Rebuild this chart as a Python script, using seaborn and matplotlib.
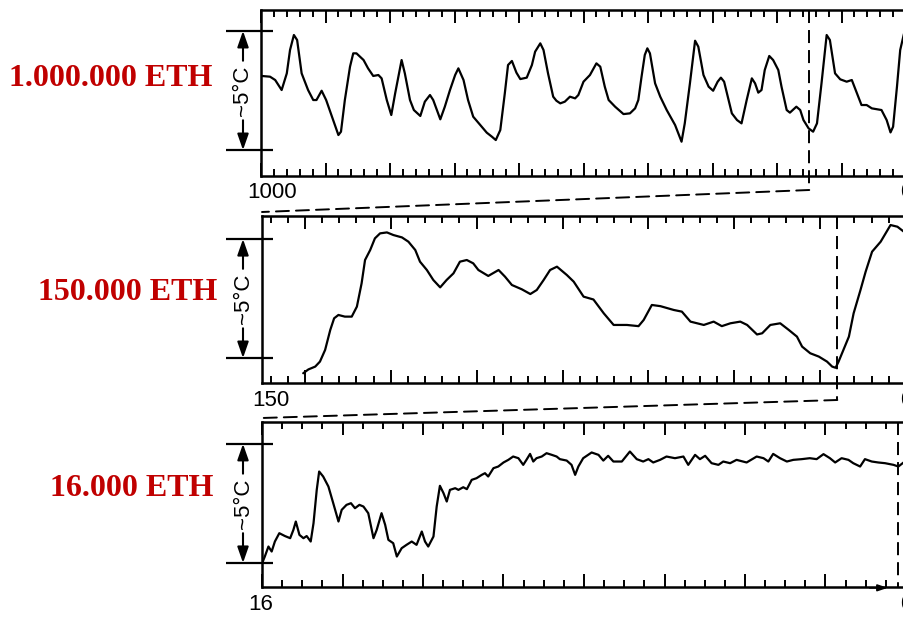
import matplotlib
matplotlib.use("Agg")
import matplotlib.pyplot as plt
import seaborn as sns
from matplotlib.ticker import MultipleLocator
from matplotlib.patches import ConnectionPatch

# ---- temperature records (age in kyr before present, temperature anomaly in degC) ----
ages_1000k = [999, 986, 978, 968, 960, 955, 949, 944, 937, 927,
              919, 914, 906, 899, 890, 880, 876, 870, 862, 857,
              852, 841, 834, 826, 818, 813, 805, 798, 792, 782,
              777, 769, 763, 753, 746, 738, 733, 722, 715, 707,
              699, 694, 686, 679, 671, 660, 650, 642, 636, 629,
              622, 617, 611, 604, 598, 588, 580, 575, 567, 562,
              555, 547, 542, 536, 529, 521, 513, 508, 500, 490,
              480, 474, 467, 461, 451, 438, 428, 420, 415, 410,
              405, 401, 397, 389, 381, 371, 358, 348, 343, 335,
              327, 322, 314, 306, 299, 292, 287, 282, 275, 270,
              262, 255, 247, 239, 234, 229, 224, 219, 212, 206,
              198, 193, 185, 180, 170, 164, 159, 151, 144, 138,
              131, 123, 118, 110, 102, 92, 84, 76, 69, 61,
              53, 38, 30, 24, 20, 14, 9, 3, 0]
temp_1000k = [3.11, 3.08, 2.94, 2.52, 3.22, 4.20, 4.83, 4.62, 3.22, 2.52,
              2.10, 2.10, 2.49, 2.10, 1.40, 0.63, 0.77, 2.10, 3.50, 4.06,
              4.06, 3.78, 3.43, 3.11, 3.15, 3.01, 2.10, 1.47, 2.38, 3.78,
              3.22, 2.10, 1.68, 1.43, 2.03, 2.31, 2.10, 1.29, 1.82, 2.52,
              3.15, 3.43, 2.94, 2.10, 1.40, 1.05, 0.73, 0.56, 0.42, 0.84,
              2.38, 3.57, 3.74, 3.25, 2.98, 3.04, 3.57, 4.13, 4.48, 4.20,
              3.22, 2.24, 2.07, 1.96, 2.03, 2.24, 2.17, 2.31, 2.87, 3.15,
              3.64, 3.50, 2.66, 2.10, 1.82, 1.51, 1.54, 1.75, 2.10, 3.08,
              3.99, 4.27, 4.06, 2.80, 2.24, 1.68, 1.05, 0.35, 1.12, 2.80,
              4.59, 4.34, 3.15, 2.66, 2.49, 2.87, 3.04, 2.87, 2.10, 1.54,
              1.26, 1.12, 2.10, 3.01, 2.80, 2.41, 2.52, 3.36, 3.95, 3.78,
              3.36, 2.66, 1.68, 1.57, 1.82, 1.68, 1.26, 0.91, 0.77, 1.12,
              2.80, 4.83, 4.62, 3.22, 2.97, 2.87, 2.94, 2.38, 1.89, 1.89,
              1.75, 1.68, 1.26, 0.74, 0.98, 2.66, 4.20, 4.90, 4.70]

ages_150k = [140.4, 139.2, 137.6, 136.5, 135.3, 134.1, 133.2, 132.2, 130.7, 129.1,
             127.9, 126.8, 126.0, 124.8, 123.7, 122.5, 120.9, 119.4, 117.4, 115.9,
             114.3, 113.2, 111.6, 110.1, 108.5, 107.0, 105.4, 103.9, 102.3, 100.8,
             99.6, 97.3, 94.9, 93.4, 91.8, 89.5, 87.5, 86.0, 84.4, 82.9,
             81.3, 79.0, 77.4, 75.1, 72.8, 70.4, 68.1, 65.0, 62.3, 61.1,
             59.2, 57.2, 54.1, 52.2, 50.2, 47.1, 44.8, 42.9, 40.9, 38.6,
             37.0, 34.7, 33.5, 31.6, 29.3, 27.3, 25.4, 24.2, 22.3, 20.3,
             18.4, 17.2, 16.4, 15.7, 13.3, 12.2, 10.6, 9.4, 7.9, 5.9,
             3.6, 2.0, 0.5]
temp_150k = [-0.64, -0.48, -0.36, -0.15, 0.34, 1.18, 1.67, 1.81, 1.74, 1.74,
             2.16, 3.14, 4.12, 4.54, 5.03, 5.24, 5.28, 5.17, 5.07, 4.89,
             4.54, 4.05, 3.70, 3.28, 2.97, 3.28, 3.56, 4.05, 4.12, 3.98,
             3.70, 3.45, 3.70, 3.42, 3.07, 2.89, 2.69, 2.86, 3.28, 3.70,
             3.84, 3.49, 3.21, 2.58, 2.46, 1.88, 1.39, 1.39, 1.34, 1.60,
             2.23, 2.18, 2.02, 1.95, 1.53, 1.39, 1.53, 1.34, 1.46, 1.53,
             1.39, 0.99, 1.04, 1.39, 1.46, 1.18, 0.90, 0.48, 0.20, 0.06,
             -0.15, -0.36, -0.41, -0.15, 0.90, 1.88, 2.86, 3.63, 4.47, 4.89,
             5.59, 5.52, 5.31]

ages_16k = [15.98, 15.93, 15.84, 15.76, 15.68, 15.57, 15.43, 15.30, 15.22, 15.16,
            15.07, 14.97, 14.89, 14.79, 14.72, 14.64, 14.58, 14.48, 14.35, 14.23,
            14.10, 14.02, 13.90, 13.79, 13.69, 13.58, 13.48, 13.36, 13.23, 13.15,
            13.03, 12.94, 12.86, 12.74, 12.65, 12.53, 12.41, 12.28, 12.16, 12.03,
            11.95, 11.87, 11.74, 11.66, 11.58, 11.49, 11.41, 11.33, 11.20, 11.12,
            11.00, 10.91, 10.79, 10.67, 10.54, 10.46, 10.38, 10.25, 10.13, 10.00,
            9.88, 9.76, 9.63, 9.51, 9.43, 9.34, 9.26, 9.18, 9.05, 8.93,
            8.80, 8.68, 8.60, 8.43, 8.31, 8.22, 8.14, 8.02, 7.81, 7.64,
            7.52, 7.40, 7.27, 7.06, 6.86, 6.69, 6.53, 6.40, 6.28, 6.11,
            5.95, 5.74, 5.53, 5.41, 5.24, 5.12, 4.99, 4.83, 4.66, 4.54,
            4.37, 4.21, 3.96, 3.71, 3.54, 3.42, 3.30, 3.13, 2.96, 2.80,
            2.59, 2.39, 2.22, 2.05, 1.89, 1.76, 1.60, 1.43, 1.31, 1.14,
            1.02, 0.85, 0.69, 0.52, 0.31, 0.19, 0.06]
temp_16k = [0.06, 0.27, 0.69, 0.48, 0.90, 1.25, 1.13, 1.04, 1.39, 1.74,
            1.18, 1.04, 1.13, 0.90, 1.67, 3.07, 3.84, 3.63, 3.21, 2.51,
            1.74, 2.23, 2.44, 2.51, 2.30, 2.44, 2.37, 2.09, 1.04, 1.39,
            2.09, 1.60, 0.97, 0.83, 0.27, 0.62, 0.76, 0.90, 0.76, 1.32,
            0.90, 0.69, 1.11, 2.37, 3.24, 2.93, 2.58, 3.07, 3.14, 3.07,
            3.18, 3.10, 3.49, 3.56, 3.70, 3.77, 3.63, 3.98, 4.05, 4.22,
            4.33, 4.47, 4.40, 4.12, 4.33, 4.58, 4.26, 4.40, 4.47, 4.61,
            4.54, 4.47, 4.36, 4.30, 4.12, 3.70, 4.05, 4.40, 4.64, 4.54,
            4.30, 4.50, 4.26, 4.26, 4.68, 4.36, 4.26, 4.36, 4.22, 4.33,
            4.47, 4.40, 4.47, 4.12, 4.54, 4.36, 4.50, 4.19, 4.12, 4.26,
            4.19, 4.33, 4.22, 4.47, 4.40, 4.26, 4.58, 4.40, 4.26, 4.33,
            4.36, 4.40, 4.36, 4.57, 4.40, 4.22, 4.40, 4.33, 4.19, 4.05,
            4.36, 4.26, 4.22, 4.19, 4.12, 4.05, 4.22]

panel_titles = ["1.000.000 ETH", "150.000 ETH", "16.000 ETH"]
start_labels = ["1000", "150", "16"]
end_label = "0"
span_kyr = [1000, 150, 16]           # left edge of each time axis
major_step = [100, 20, 2]
minor_step = [20, 4, 0.5]
zoom_start = [150, 16, 0.2]          # where the next (zoomed) panel begins
bracket_range = (0.0, 5.0)           # the "~5°C" scale bar
bracket_text = "~5°C"

# ---- figure layout (pixels of a 904 x 617 canvas) ----
W, H = 904, 617
sns.set_theme(style="white")
plt.rcParams["font.family"] = ["Liberation Sans", "DejaVu Sans"]

fig = plt.figure(figsize=(W / 100, H / 100), dpi=100)

# left, top, bottom, right in pixels
boxes = [(261, 10, 176, 906), (262, 216, 383, 906), (262, 422, 587, 906)]
ylims = [(-1.09, 5.88), (-1.05, 5.97), (-1.01, 5.92)]
title_pos = [(212, 79), (217, 292), (213, 488)]

axes = []
for (l, t, b, r) in boxes:
    axes.append(fig.add_axes([l / W, 1 - b / H, (r - l) / W, (b - t) / H]))

series = [(ages_1000k, temp_1000k), (ages_150k, temp_150k), (ages_16k, temp_16k)]

DARK_RED = "#C00000"
dash = (0, (6.7, 3.6))

for i, ax in enumerate(axes):
    age, temp = series[i]
    sns.lineplot(x=age, y=temp, ax=ax, color="black", linewidth=1.6,
                 sort=False, estimator=None)
    ax.set_xlim(span_kyr[i], 0)
    ax.set_ylim(*ylims[i])
    ax.set_xlabel("")
    ax.set_ylabel("")

    ax.xaxis.set_major_locator(MultipleLocator(major_step[i]))
    ax.xaxis.set_minor_locator(MultipleLocator(minor_step[i]))
    ax.tick_params(axis="x", which="both", direction="in", top=True, bottom=True,
                   labelbottom=False, labeltop=False, width=1.4, color="black")
    ax.tick_params(axis="x", which="major", length=9.5)
    ax.tick_params(axis="x", which="minor", length=5.0)
    ax.tick_params(axis="y", left=False, right=False, labelleft=False)
    ax.set_yticks([])
    for side in ("left", "top", "bottom"):
        ax.spines[side].set_color("black")
        ax.spines[side].set_linewidth(1.8)
    ax.spines["right"].set_visible(False)

    l, t, b, r = boxes[i]
    wpx, hpx = r - l, b - t

    # time axis end labels
    first_x = {0: 247, 1: 252, 2: 248}[i]
    lab_y = {0: 192, 1: 400, 2: 605}[i]
    ax.text((first_x - l) / wpx, (b - lab_y) / hpx, start_labels[i],
            transform=ax.transAxes, ha="left", va="center", fontsize=16,
            color="black")
    ax.text(1.0, (b - lab_y) / hpx, end_label, transform=ax.transAxes,
            ha="center", va="center", fontsize=16, color="black")

    # ~5°C scale bar on the left
    tr = ax.get_yaxis_transform()
    lo, hi = bracket_range
    x0, x1, xa = (226 - l) / wpx, (273 - l) / wpx, (243 - l) / wpx
    for yv in (lo, hi):
        ax.plot([x0, x1], [yv, yv], transform=tr, color="black", lw=1.6,
                clip_on=False, solid_capstyle="butt")
    arrow = dict(arrowstyle="-|>,head_length=0.8,head_width=0.28", color="black",
                 lw=1.5, shrinkA=0, shrinkB=0, mutation_scale=12)
    ax.annotate("", xy=(xa, hi), xytext=(xa, hi - 1.25), xycoords=tr,
                textcoords=tr, arrowprops=arrow)
    ax.annotate("", xy=(xa, lo), xytext=(xa, lo + 1.25), xycoords=tr,
                textcoords=tr, arrowprops=arrow)
    ax.text(xa, (lo + hi) / 2, bracket_text, transform=tr, rotation=90,
            ha="center", va="center", fontsize=16, color="black")

    # panel title
    tx, ty = title_pos[i]
    fig.text(tx / W, 1 - ty / H, panel_titles[i], ha="right", va="center",
             color=DARK_RED, fontsize=23, fontweight="bold",
             family=["Liberation Serif", "DejaVu Serif"])

# dashed markers of the zoomed interval and the links to the next panel
drop = [14, 17]
rise = 4
for i, ax in enumerate(axes):
    l, t, b, r = boxes[i]
    hpx = b - t
    xt = ax.get_xaxis_transform()
    bottom_end = -drop[i] / hpx if i < 2 else 0.0
    ax.plot([zoom_start[i], zoom_start[i]], [1.0, bottom_end], transform=xt,
            color="black", lw=1.4, linestyle=dash, clip_on=False)
    if i < 2:
        nxt = axes[i + 1]
        nl, nt, nb, nr = boxes[i + 1]
        con = ConnectionPatch(xyA=(zoom_start[i], bottom_end), coordsA=xt,
                              xyB=(span_kyr[i + 1], 1 + rise / (nb - nt)),
                              coordsB=nxt.get_xaxis_transform(),
                              color="black", lw=1.4, linestyle=dash)
        fig.add_artist(con)

# small pointer towards the present on the last time axis
axes[2].annotate("", xy=(0.45, -0.005), xytext=(0.9, -0.005),
                 xycoords=axes[2].get_xaxis_transform(),
                 arrowprops=dict(arrowstyle="-|>,head_length=0.6,head_width=0.2",
                                 color="black", lw=1.2, shrinkA=0, shrinkB=0,
                                 mutation_scale=10))

fig.savefig("out.png", dpi=100)
